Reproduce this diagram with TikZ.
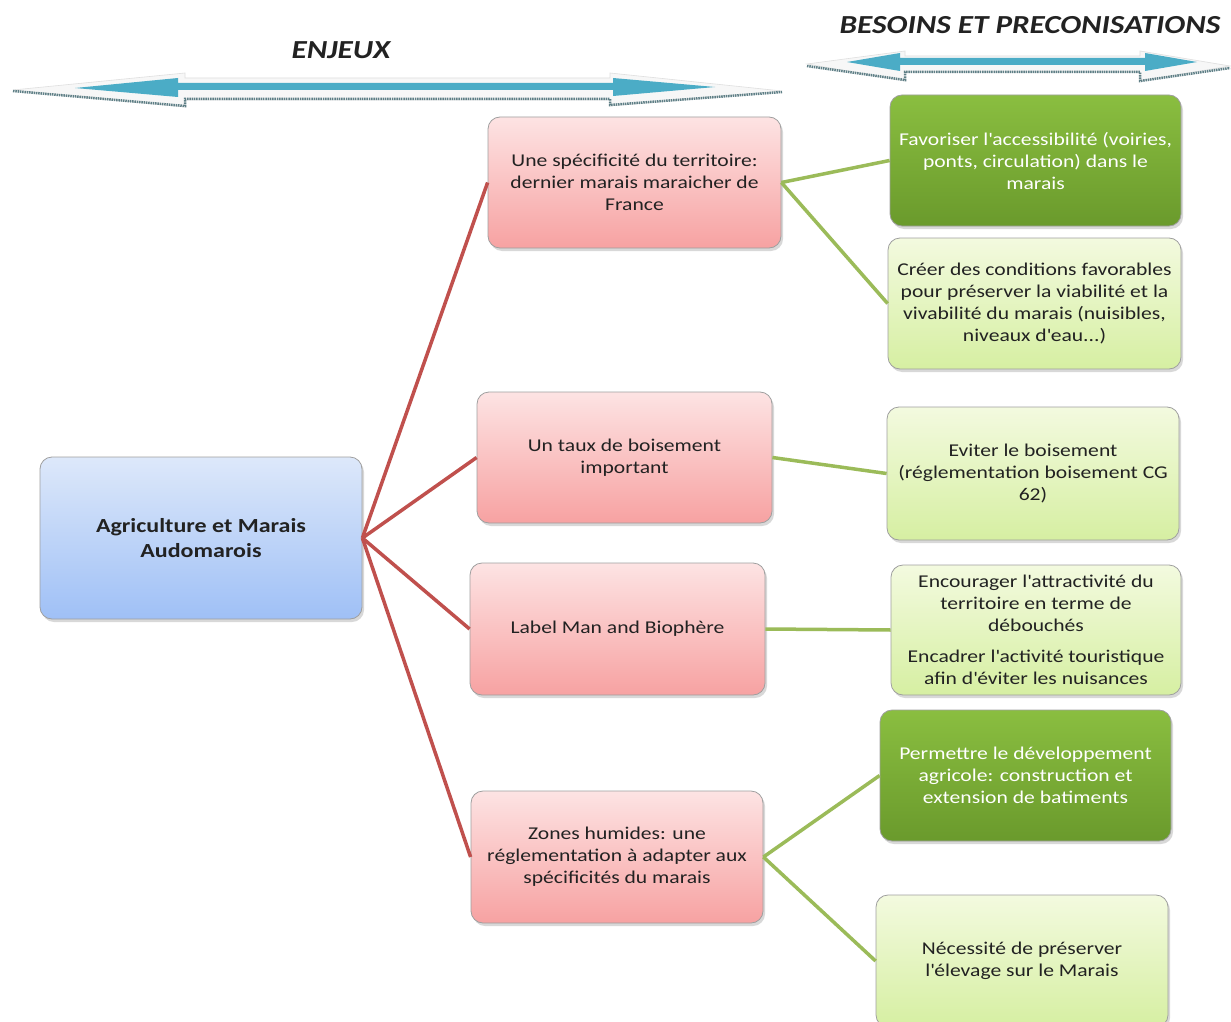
\documentclass[tikz,border=0pt]{standalone}
\usepackage{fontspec}
\setmainfont{Carlito}[FakeStretch=1.2]
\usetikzlibrary{shadows}
\definecolor{redline}{HTML}{C0504D}
\definecolor{greenline}{HTML}{9BBB59}
\definecolor{arrowblue}{HTML}{4BACC6}
\definecolor{arrowedge}{HTML}{5E7F86}
\definecolor{txt}{HTML}{222222}
\definecolor{bluetop}{HTML}{DDE8FA}
\definecolor{bluebot}{HTML}{9FC0F6}
\definecolor{redtop}{HTML}{FDE3E3}
\definecolor{redbot}{HTML}{F7A2A2}
\definecolor{ltgtop}{HTML}{F3FADF}
\definecolor{ltgbot}{HTML}{D6EFA2}
\definecolor{dkgtop}{HTML}{8ABE40}
\definecolor{dkgbot}{HTML}{6A9A2C}
\newcommand\ap{\textquotesingle}
\tikzset{
  box/.style={rounded corners=12pt, draw=gray!75, line width=0.8pt,
    drop shadow={opacity=0.30, shadow xshift=2pt, shadow yshift=-3pt},
    align=center, inner sep=2pt, text=txt,
    font=\fontsize{18pt}{22pt}\selectfont},
  rootbox/.style={box, top color=bluetop, bottom color=bluebot,
    font=\fontsize{20pt}{25pt}\selectfont\bfseries},
  redbox/.style={box, top color=redtop, bottom color=redbot},
  lightbox/.style={box, top color=ltgtop, bottom color=ltgbot},
  darkbox/.style={box, top color=dkgtop, bottom color=dkgbot, text=white},
  redconn/.style={draw=redline, line width=3.5pt},
  greenconn/.style={draw=greenline, line width=3.5pt},
  titletext/.style={font=\fontsize{26pt}{30pt}\selectfont\bfseries\itshape, text=txt},
  outerarrow/.style={fill=gray!6, draw=gray!25, line width=0.6pt},
  arrowshadow/.style={draw=arrowedge, line width=2.5pt, dash pattern=on 1.5pt off 0.8pt},
  bluearrow/.style={fill=arrowblue, draw=none}
}
\begin{document}
\begin{tikzpicture}[x=1pt,y=-1pt]
\useasboundingbox (0,0) rectangle (1231,1022);
\fill[white] (0,0) rectangle (1231,1022);

% ---- header arrow ENJEUX
\path[outerarrow] (13,90) -- (185,73) -- (185,78) -- (610,78) -- (610,73) -- (782,91) -- (610,106) -- (610,100) -- (185,100) -- (185,107) -- cycle;
\draw[arrowshadow] (13,91) -- (185,106) -- (185,99) -- (610,99) -- (610,105) -- (782,92);
\path[bluearrow] (75,88) -- (178,78) -- (178,83) -- (613,83) -- (613,78) -- (715,87) -- (613,96) -- (613,90) -- (178,90) -- (178,97) -- cycle;
\node[titletext] (enjeux) at (341,50) {ENJEUX};

% ---- header arrow BESOINS
\path[outerarrow] (807,64) -- (905,51) -- (905,56) -- (1140,56) -- (1140,51) -- (1230,66) -- (1140,81) -- (1140,72) -- (905,72) -- (905,81) -- cycle;
\draw[arrowshadow] (807,66) -- (905,80) -- (905,72) -- (1140,72) -- (1140,81) -- (1230,68);
\path[bluearrow] (847,62) -- (900,53) -- (900,58) -- (1145,58) -- (1145,53) -- (1197,62) -- (1145,71) -- (1145,65) -- (900,65) -- (900,71) -- cycle;
\node[titletext] (besoins) at (1030,25) {BESOINS ET PRECONISATIONS};

% ---- nodes
\node[rootbox, minimum width=322pt, minimum height=162pt] (root) at (201,538) {Agriculture et Marais\\Audomarois};

\node[redbox, minimum width=293pt, minimum height=131pt] (r1) at (634.5,182.5) {Une spécificité du territoire:\\dernier marais maraicher de\\France};
\node[redbox, minimum width=295pt, minimum height=131pt] (r2) at (624.5,457.5) {Un taux de boisement\\important};
\node[redbox, minimum width=295pt, minimum height=132pt] (r3) at (617.5,629) {Label Man and Biophère};
\node[redbox, minimum width=292pt, minimum height=132pt] (r4) at (617,857) {Zones humides: une\\réglementation à adapter aux\\spécificités du marais};

\node[darkbox, minimum width=291pt, minimum height=131pt] (g1) at (1035.5,160.5) {Favoriser l\ap accessibilité (voiries,\\ponts, circulation) dans le\\marais};
\node[lightbox, minimum width=293pt, minimum height=131pt] (g2) at (1034.5,303.5) {Créer des conditions favorables\\pour préserver la viabilité et la\\vivabilité du marais (nuisibles,\\niveaux d\ap eau...)};
\node[lightbox, minimum width=292pt, minimum height=133pt] (g3) at (1033,473.5) {Eviter le boisement\\(réglementation boisement CG\\62)};
\node[lightbox, minimum width=290pt, minimum height=130pt] (g4) at (1036,630) {Encourager l\ap attractivité du\\territoire en terme de\\débouchés\\[9pt]Encadrer l\ap activité touristique\\afin d\ap éviter les nuisances};
\node[darkbox, minimum width=291pt, minimum height=131pt] (g5) at (1025.5,775.5) {Permettre le développement\\agricole: construction et\\extension de batiments};
\node[lightbox, minimum width=292pt, minimum height=132pt] (g6) at (1022,961) {Nécessité de préserver\\l\ap élevage sur le Marais};

% ---- connectors
\draw[redconn] (root.east) -- (r1.west);
\draw[redconn] (root.east) -- (r2.west);
\draw[redconn] (root.east) -- (r3.west);
\draw[redconn] (root.east) -- (r4.west);

\draw[greenconn] (r1.east) -- (g1.west);
\draw[greenconn] (r1.east) -- (g2.west);
\draw[greenconn] (r2.east) -- (g3.west);
\draw[greenconn] (r3.east) -- (g4.west);
\draw[greenconn] (r4.east) -- (g5.west);
\draw[greenconn] (r4.east) -- (g6.west);
\end{tikzpicture}
\end{document}
